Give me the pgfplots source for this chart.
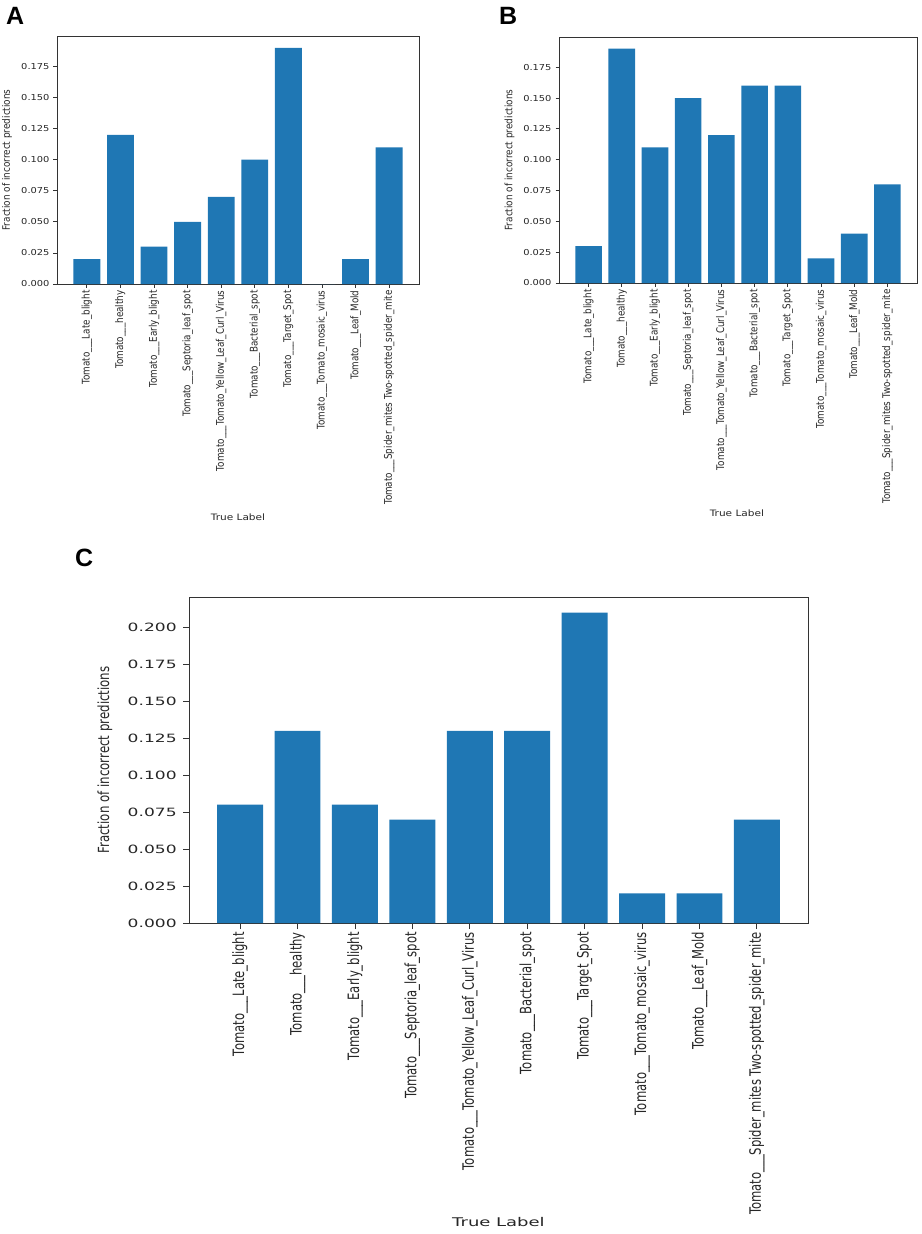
\documentclass[border=0pt]{standalone}
\usepackage{fontspec}
\setmainfont{DejaVu Sans}
\newfontfamily\lettersfont{Liberation Sans}
\usepackage{pgfplots}
\usepackage{pgfplotstable}
\pgfplotsset{compat=1.18}
\definecolor{mplblue}{HTML}{1F77B4}
\definecolor{txt}{HTML}{262626}

\pgfplotstableread{
x A B C
0 0.02 0.03 0.08
1 0.12 0.19 0.13
2 0.03 0.11 0.08
3 0.05 0.15 0.07
4 0.07 0.12 0.13
5 0.10 0.16 0.13
6 0.19 0.16 0.21
7 0.00 0.02 0.02
8 0.02 0.04 0.02
9 0.11 0.08 0.07
}\data

\pgfplotsset{
 panel/.style={
  scale only axis, ybar, bar width=0.8, xmin=-0.89, xmax=9.89, ymin=0,
  xtick={0,...,9},
  xticklabels={{Tomato\_\_\_Late\_blight},{Tomato\_\_\_healthy},{Tomato\_\_\_Early\_blight},{Tomato\_\_\_Septoria\_leaf\_spot},{Tomato\_\_\_Tomato\_Yellow\_Leaf\_Curl\_Virus},{Tomato\_\_\_Bacterial\_spot},{Tomato\_\_\_Target\_Spot},{Tomato\_\_\_Tomato\_mosaic\_virus},{Tomato\_\_\_Leaf\_Mold},{Tomato\_\_\_Spider\_mites Two-spotted\_spider\_mite}},
  tick pos=left, tick align=outside,
  axis line style={black!80, line width=0.8pt},
  major tick style={black!80, line width=0.8pt},
  scaled y ticks=false,
  /pgf/number format/assume math mode=true,
  yticklabel style={/pgf/number format/fixed, /pgf/number format/fixed zerofill, /pgf/number format/precision=3, text=txt},
  xticklabel style={text=txt},
  xlabel={True Label}, ylabel={Fraction of incorrect predictions},
 },
 small/.style={
  major tick length=3.5pt,
  ytick={0,0.025,0.05,0.075,0.1,0.125,0.15,0.175},
  ymax=0.1995,
  yticklabel style={font=\fontsize{8.2}{9}\selectfont, xscale=1.2, inner sep=3.2pt},
  xticklabel style={font=\fontsize{8.8}{9}\selectfont, rotate=90, yscale=1.2, anchor=east, inner sep=2.8pt},
  every axis y label/.style={at={(axis description cs:-0.138,0.5)}, rotate=90, yscale=1.15, anchor=center, font=\fontsize{8.9}{9}\selectfont, text=txt},
  every axis x label/.style={at={(axis description cs:0.5,-0.94)}, anchor=center, xscale=1.2, font=\fontsize{8.8}{9}\selectfont, text=txt},
 },
}

\begin{document}
\begin{tikzpicture}
\path[use as bounding box] (0pt,0pt) rectangle (921pt,-1234pt);

\node[font=\lettersfont\bfseries\fontsize{25}{25}\selectfont, anchor=north west, inner sep=0pt] at (6pt,-7pt) {A};
\node[font=\lettersfont\bfseries\fontsize{25}{25}\selectfont, anchor=north west, inner sep=0pt] at (499pt,-7pt) {B};
\node[font=\lettersfont\bfseries\fontsize{25}{25}\selectfont, anchor=north west, inner sep=0pt] at (75pt,-549pt) {C};

\begin{axis}[panel, small, at={(57pt,-36pt)}, anchor=north west, width=362pt, height=248pt]
\addplot[fill=mplblue, draw=none] table[x=x, y=A] {\data};
\end{axis}

\begin{axis}[panel, small, at={(559pt,-37pt)}, anchor=north west, width=358pt, height=246pt,
  every axis x label/.style={at={(axis description cs:0.497,-0.935)}, anchor=center, xscale=1.2, font=\fontsize{8.8}{9}\selectfont, text=txt}]
\addplot[fill=mplblue, draw=none] table[x=x, y=B] {\data};
\end{axis}

\begin{axis}[panel, at={(189pt,-597pt)}, anchor=north west, width=619pt, height=326pt,
  major tick length=6pt,
  ytick={0,0.025,0.05,0.075,0.1,0.125,0.15,0.175,0.2},
  ymax=0.2205,
  yticklabel style={font=\fontsize{11.4}{12}\selectfont, xscale=1.5, inner sep=4pt},
  xticklabel style={font=\fontsize{11.6}{12}\selectfont, rotate=90, yscale=1.35, anchor=east, inner sep=3pt},
  every axis y label/.style={at={(axis description cs:-0.136,0.5)}, rotate=90, yscale=1.3, anchor=center, font=\fontsize{11.8}{12}\selectfont, text=txt},
  every axis x label/.style={at={(axis description cs:0.5,-0.917)}, anchor=center, xscale=1.5, font=\fontsize{12}{13}\selectfont, text=txt}]
\addplot[fill=mplblue, draw=none] table[x=x, y=C] {\data};
\end{axis}
\end{tikzpicture}
\end{document}
